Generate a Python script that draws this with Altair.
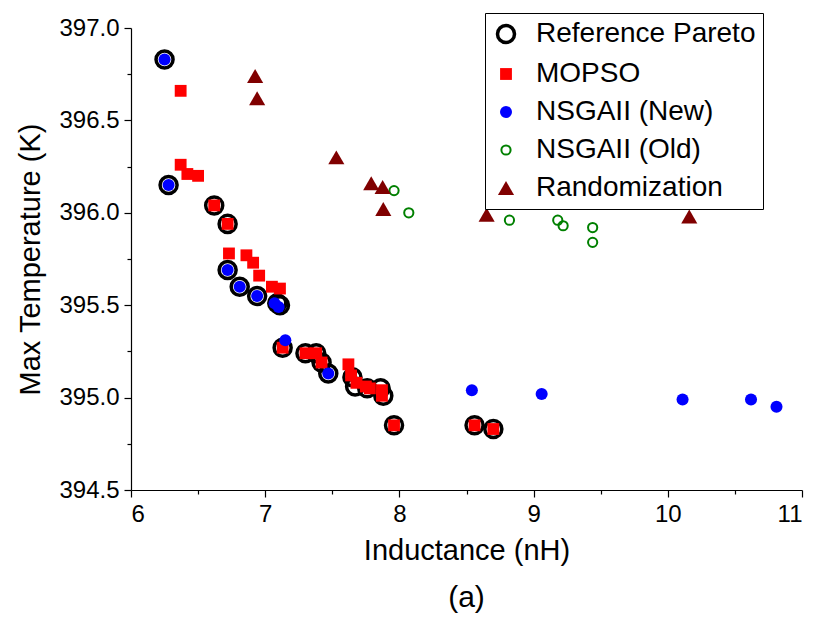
import altair as alt
import pandas as pd

# ---- data ----
series_names = ["Reference Pareto", "MOPSO", "NSGAII (New)", "NSGAII (Old)", "Randomization"]

ref_x = [6.25, 6.28, 6.62, 6.72, 6.72, 6.81, 6.94, 7.09, 7.11, 7.13, 7.30, 7.38, 7.42, 7.47,
         7.65, 7.67, 7.76, 7.86, 7.88, 7.96, 8.56, 8.70]
ref_y = [396.83, 396.15, 396.04, 395.94, 395.69, 395.60, 395.55, 395.51, 395.50, 395.27, 395.24,
         395.24, 395.19, 395.13, 395.11, 395.06, 395.05, 395.05, 395.01, 394.85, 394.85, 394.83]

mopso_x = [6.37, 6.37, 6.42, 6.50, 6.62, 6.72, 6.73, 6.86, 6.91, 6.955, 7.05, 7.11, 7.13, 7.30,
           7.38, 7.42, 7.62, 7.64, 7.68, 7.75, 7.78, 7.87, 7.87, 7.96, 8.56, 8.70]
mopso_y = [396.66, 396.26, 396.21, 396.20, 396.04, 395.94, 395.78, 395.77, 395.73, 395.66, 395.60,
           395.59, 395.27, 395.24, 395.24, 395.19, 395.18, 395.12, 395.08, 395.06, 395.05, 395.04,
           395.01, 394.85, 394.85, 394.83]

new_x = [6.25, 6.28, 6.72, 6.81, 6.94, 7.07, 7.10, 7.15, 7.47, 8.54, 9.06, 10.11, 10.62, 10.81]
new_y = [396.83, 396.15, 395.69, 395.60, 395.55, 395.51, 395.49, 395.31, 395.13, 395.04, 395.02,
         394.99, 394.99, 394.95]

old_x = [7.96, 8.07, 8.82, 9.18, 9.22, 9.44, 9.44]
old_y = [396.12, 396.00, 395.96, 395.96, 395.93, 395.92, 395.84]

rand_x = [6.925, 6.94, 7.53, 7.79, 7.875, 7.88, 8.65, 10.16]
rand_y = [396.74, 396.62, 396.30, 396.16, 396.14, 396.02, 395.99, 395.98]

x_ticks = [6, 6.5, 7, 7.5, 8, 8.5, 9, 9.5, 10, 10.5, 11]
y_ticks = [394.5, 394.75, 395.0, 395.25, 395.5, 395.75, 396.0, 396.25, 396.5, 396.75, 397.0]

# ---- build table ----
frames = []
for name, xs, ys in zip(series_names,
                        [ref_x, mopso_x, new_x, old_x, rand_x],
                        [ref_y, mopso_y, new_y, old_y, rand_y]):
    frames.append(pd.DataFrame({"x": xs, "y": ys, "series": name}))
df = pd.concat(frames, ignore_index=True)

FONT = "Liberation Sans"

shape_range = ["circle", "square", "circle", "circle", "triangle-up"]
stroke_range = ["#000000", "#ff0000", "#0000ff", "#008000", "#800000"]
fill_range = ["transparent", "#ff0000", "#0000ff", "transparent", "#800000"]
size_range = [290, 140, 145, 85, 260]
sw_range = [3.5, 0, 0, 2, 0]

leg = alt.Legend(
    title=None, orient="none", legendX=354, legendY=-15,
    strokeColor="black", fillColor="white", padding=7,
    labelFont=FONT, labelFontSize=28, labelColor="black", labelLimit=0,
    rowPadding=10, labelOffset=16, symbolType="circle",
)

sdom = series_names

chart = alt.Chart(df).mark_point(filled=False, opacity=1).encode(
    x=alt.X("x:Q", scale=alt.Scale(domain=[6, 11], nice=False, zero=False),
            axis=alt.Axis(title="Inductance (nH)", values=x_ticks,
                          labelExpr="datum.value % 1 == 0 ? format(datum.value, 'd') : ''",
                          tickSize={"condition": {"test": "datum.value % 1 == 0", "value": 7}, "value": 4})),
    y=alt.Y("y:Q", scale=alt.Scale(domain=[394.5, 397.0], nice=False, zero=False),
            axis=alt.Axis(title="Max Temperature (K)", values=y_ticks,
                          labelExpr="datum.value % 0.5 == 0 ? format(datum.value, '.1f') : ''",
                          tickSize={"condition": {"test": "datum.value % 0.5 == 0", "value": 7}, "value": 4})),
    shape=alt.Shape("series:N", scale=alt.Scale(domain=sdom, range=shape_range), legend=leg),
    color=alt.Color("series:N", scale=alt.Scale(domain=sdom, range=stroke_range), legend=leg),
    fill=alt.Fill("series:N", scale=alt.Scale(domain=sdom, range=fill_range), legend=leg),
    size=alt.Size("series:N", scale=alt.Scale(type="ordinal", domain=sdom, range=size_range), legend=leg),
    strokeWidth=alt.StrokeWidth("series:N", scale=alt.Scale(type="ordinal", domain=sdom, range=sw_range), legend=leg),
).properties(
    width=671, height=462,
    autosize=alt.AutoSizeParams(type="none"),
    padding={"left": 123, "top": 20, "right": 6, "bottom": 126},
    title=alt.Title("(a)", orient="bottom", font=FONT, fontSize=30, fontWeight="normal",
                    color="black", offset=18),
).configure_view(stroke=None).configure_axis(
    grid=False, domainColor="black", tickColor="black", labelColor="black", titleColor="black",
    labelFont=FONT, titleFont=FONT, labelFontSize=24, titleFontSize=29, titleFontWeight="normal",
    domainWidth=1.2, tickWidth=1.2, labelPadding=5,
).configure_axisY(titlePadding=13).configure_axisX(titlePadding=10)

chart.save("out.html", embed_options={"renderer": "svg", "actions": False})
